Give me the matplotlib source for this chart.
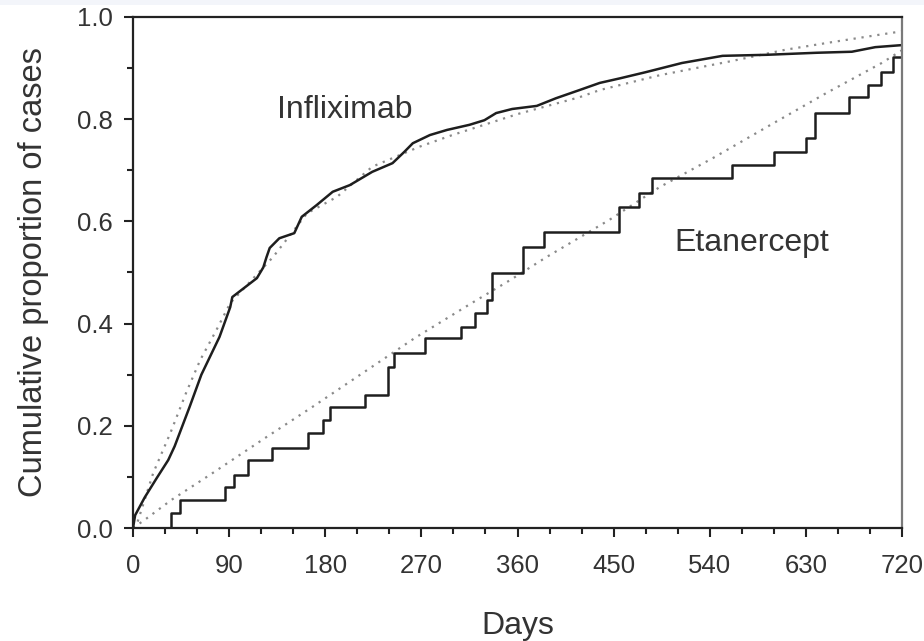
import matplotlib
matplotlib.use("Agg")
import matplotlib.pyplot as plt
from matplotlib.patches import Rectangle
from matplotlib.ticker import MultipleLocator

plt.rcParams['font.family'] = ['Liberation Sans', 'DejaVu Sans']

# Infliximab observed cumulative proportion
inf_days = [0, 2, 11, 22, 33, 39, 53, 64, 81, 91, 93, 116, 122, 125, 128, 137, 151, 158,
            172, 187, 203, 224, 243, 254, 262, 278, 294, 315, 329, 340, 355, 378, 396, 418,
            437, 456, 480, 514, 552, 593, 640, 673, 695, 720]
inf_vals = [0.0, 0.025, 0.06, 0.097, 0.133, 0.16, 0.237, 0.30, 0.374, 0.432, 0.452, 0.489,
            0.51, 0.53, 0.548, 0.567, 0.577, 0.609, 0.632, 0.658, 0.671, 0.697, 0.714, 0.736,
            0.753, 0.769, 0.779, 0.789, 0.798, 0.812, 0.82, 0.826, 0.841, 0.857, 0.871, 0.88,
            0.892, 0.91, 0.924, 0.926, 0.93, 0.932, 0.941, 0.945]

# Infliximab fitted curve (dotted)
inf_fit_days = [0, 4, 19, 35, 50, 63, 78, 91, 131, 163, 191, 224, 268, 299, 360, 418, 437,
                493, 561, 611, 655, 701, 720]
inf_fit_vals = [0.0, 0.01, 0.108, 0.186, 0.266, 0.329, 0.387, 0.44, 0.53, 0.616, 0.648, 0.707,
                0.746, 0.769, 0.81, 0.843, 0.857, 0.886, 0.914, 0.936, 0.951, 0.966, 0.972]

# Etanercept observed cumulative proportion (step function)
eta_days = [0, 36, 44, 86, 95, 108, 130, 164, 178, 184, 217, 239, 244, 273, 307, 320, 331,
            336, 365, 385, 455, 474, 486, 561, 600, 630, 639, 670, 688, 700, 712, 720]
eta_vals = [0.0, 0.03, 0.055, 0.08, 0.104, 0.133, 0.157, 0.186, 0.211, 0.237, 0.26, 0.315,
            0.342, 0.372, 0.393, 0.42, 0.446, 0.499, 0.55, 0.58, 0.628, 0.655, 0.685, 0.71,
            0.736, 0.763, 0.812, 0.844, 0.867, 0.892, 0.922, 0.922]

# Etanercept fitted curve (dotted)
eta_fit_days = [0, 11, 36, 72, 125, 168, 222, 264, 317, 353, 387, 446, 493, 543, 597, 649,
                701, 720]
eta_fit_vals = [0.0, 0.016, 0.055, 0.104, 0.178, 0.237, 0.313, 0.372, 0.44, 0.485, 0.53,
                0.603, 0.667, 0.724, 0.789, 0.851, 0.91, 0.935]

x_ticks = [0, 90, 180, 270, 360, 450, 540, 630, 720]
y_ticks = [0.0, 0.2, 0.4, 0.6, 0.8, 1.0]

fig = plt.figure(figsize=(9.24, 6.41), dpi=100)
fig.patches.append(Rectangle((0, 1 - 5 / 641), 1, 5 / 641, transform=fig.transFigure,
                             facecolor='#f3f5fa', edgecolor='none', zorder=0))
ax = fig.add_axes([133 / 924, 113 / 641, (902 - 133) / 924, (528 - 17) / 641])

dot = dict(color='#8a8a8a', lw=1.6, linestyle=(0, (1.0, 2.6)))
ax.plot(inf_fit_days, inf_fit_vals, **dot)
ax.plot(eta_fit_days, eta_fit_vals, **dot)
ax.plot(inf_days, inf_vals, color='#1e1e1e', lw=1.8)
ax.plot(eta_days, eta_vals, color='#1e1e1e', lw=1.8, drawstyle='steps-post')

ax.set_xlim(0, 720)
ax.set_ylim(0, 1.0)
ax.set_xticks(x_ticks)
ax.set_xticklabels([str(t) for t in x_ticks])
ax.set_yticks(y_ticks)
ax.set_yticklabels([f"{t:.1f}" for t in y_ticks])
ax.xaxis.set_minor_locator(MultipleLocator(30))
ax.yaxis.set_minor_locator(MultipleLocator(0.1))

ax.tick_params(axis='both', which='major', direction='out', length=6.5, width=1.5,
               color='#222222', labelsize=18.5, labelcolor='#333333')
ax.tick_params(axis='both', which='minor', direction='out', length=4.5, width=1.5,
               color='#222222')
ax.tick_params(axis='x', which='major', pad=12)
ax.tick_params(axis='y', which='major', pad=8)

for side in ['left', 'bottom', 'top']:
    ax.spines[side].set_linewidth(1.6)
    ax.spines[side].set_color('#222222')
ax.spines['right'].set_linewidth(1.6)
ax.spines['right'].set_color('#7a7a7a')

ax.set_xlabel('Days', fontsize=23, color='#333333', labelpad=24)
ax.set_ylabel('Cumulative proportion of cases', fontsize=23.5, color='#333333', labelpad=20)

ax.text(198, 0.818, 'Infliximab', fontsize=23, color='#333333', ha='center', va='center')
ax.text(579, 0.558, 'Etanercept', fontsize=23, color='#333333', ha='center', va='center')

fig.savefig('out.png', dpi=100)
